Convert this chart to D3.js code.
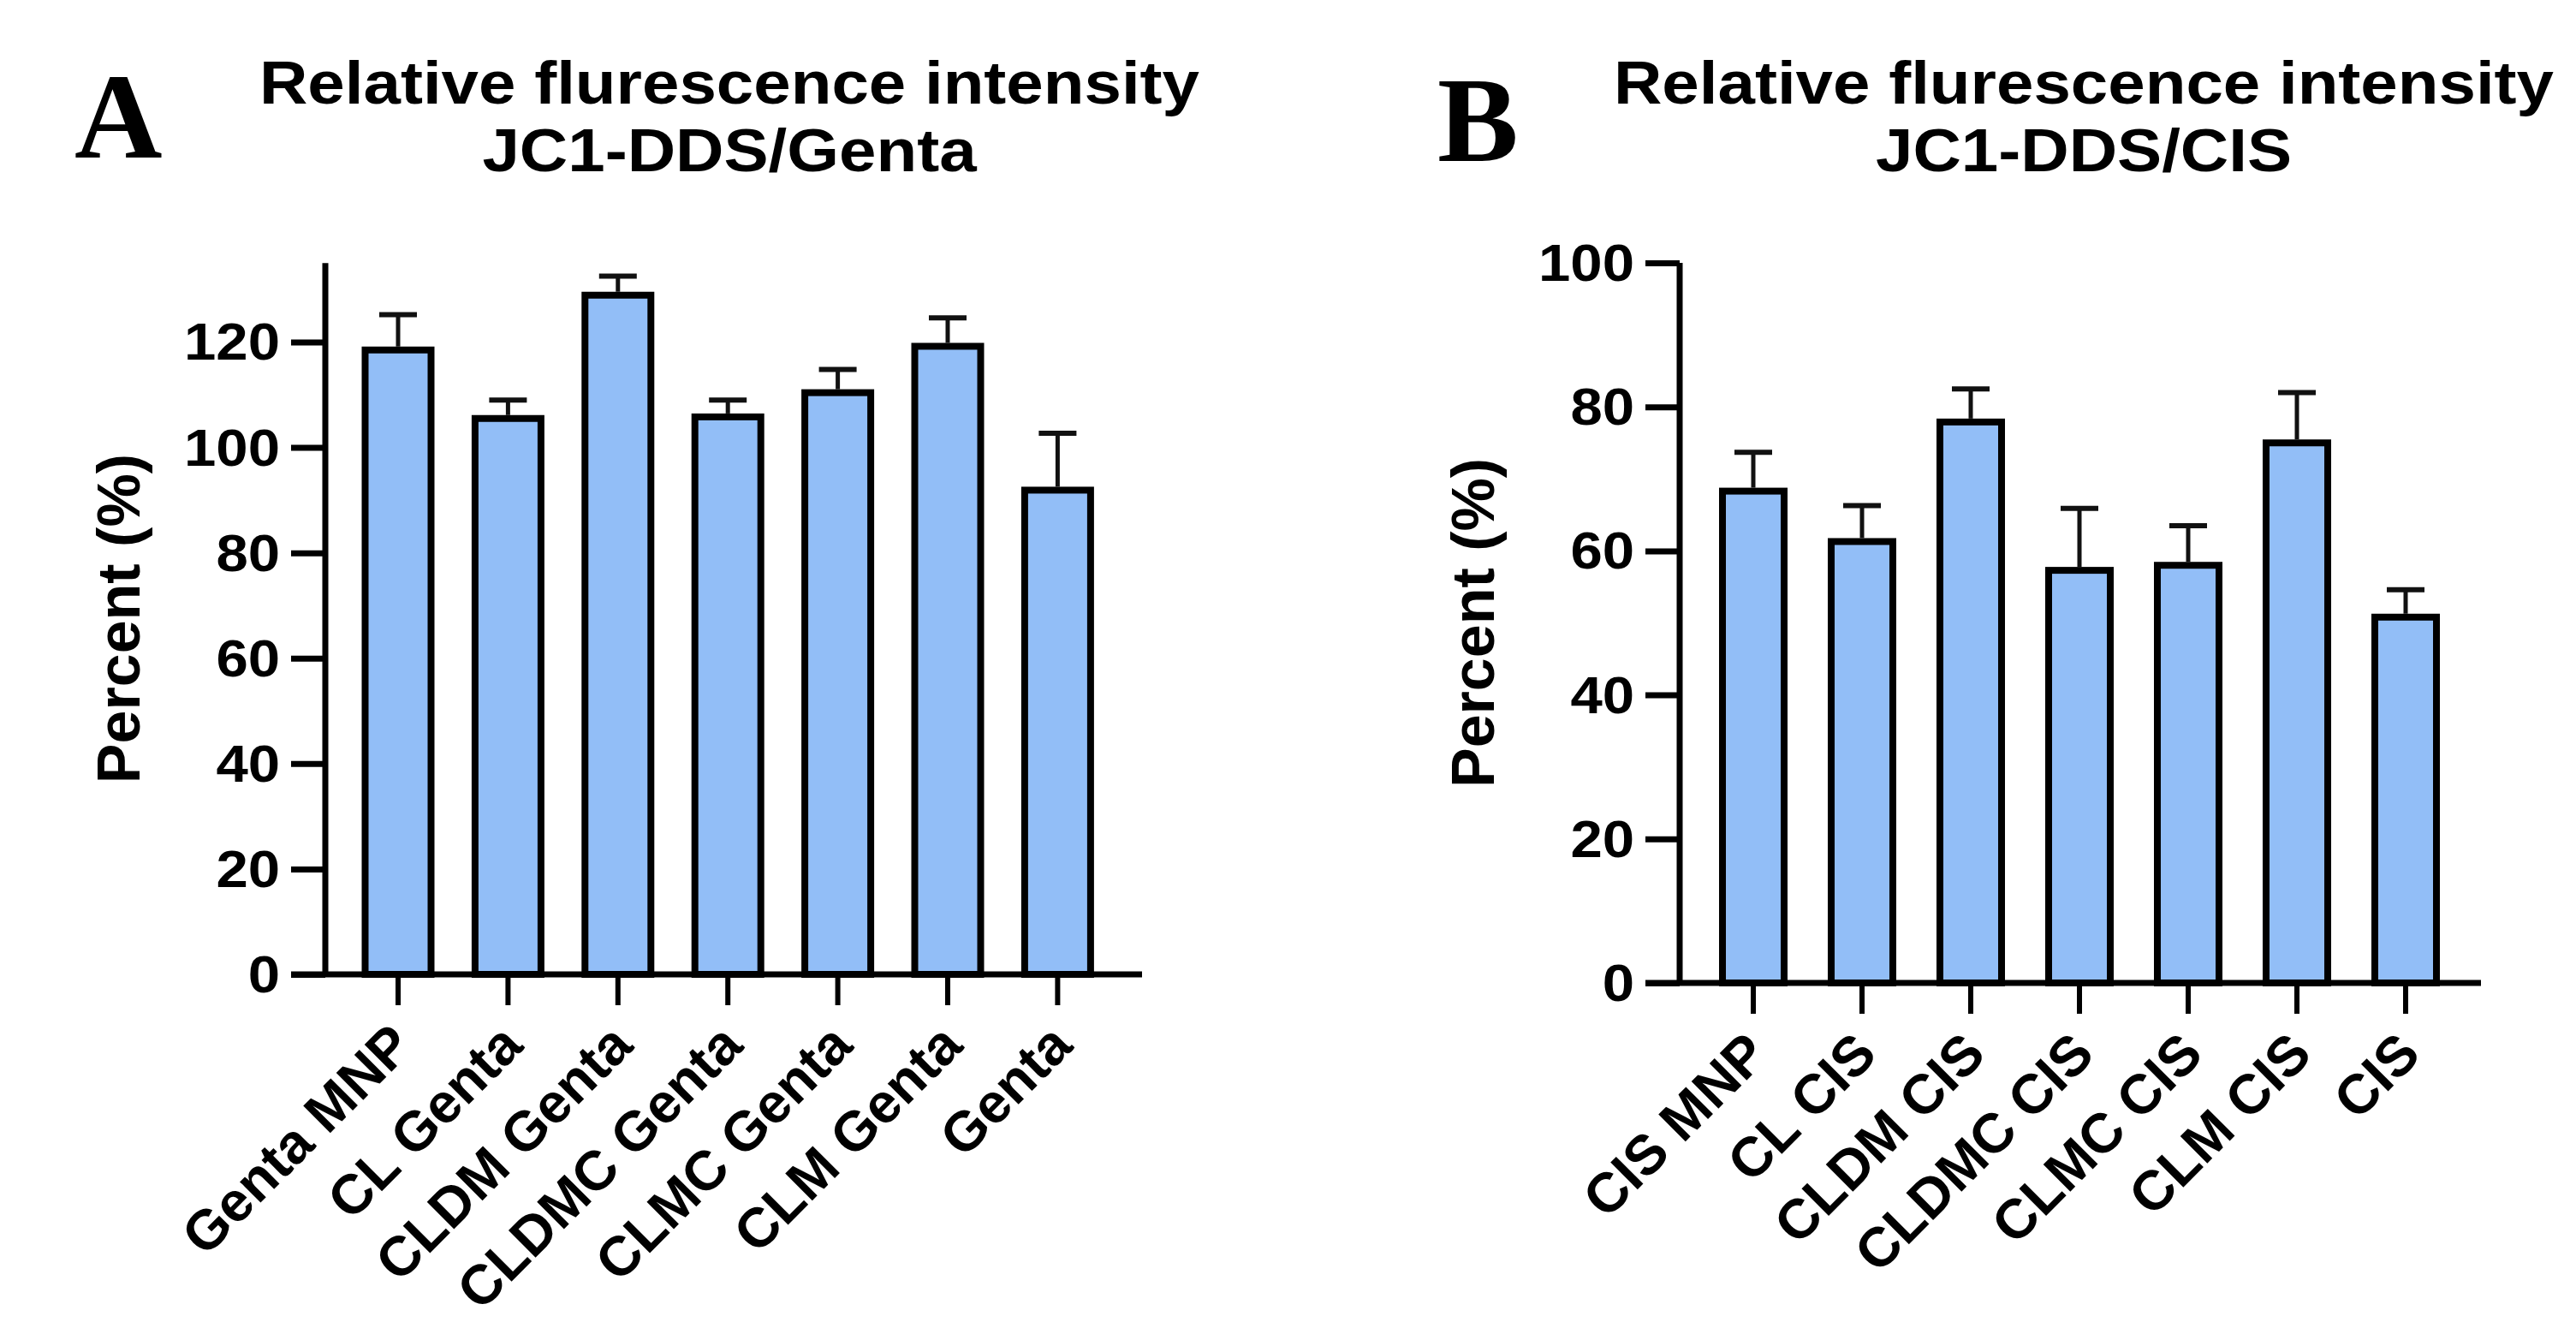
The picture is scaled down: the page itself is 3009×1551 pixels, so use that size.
<!DOCTYPE html>
<html>
<head>
<meta charset="utf-8">
<script src="https://cdn.jsdelivr.net/npm/d3@7"></script>
<style>
  html, body { margin: 0; padding: 0; background: #ffffff; }
  svg { display: block; }
</style>
</head>
<body>
<svg id="chart" width="3009" height="1551"></svg>
<script>
// ---------- data ----------
const categoriesA = ["Genta MNP", "CL Genta", "CLDM Genta", "CLDMC Genta", "CLMC Genta", "CLM Genta", "Genta"];
const meansA = [118.5, 105.5, 128.9, 105.8, 110.4, 119.2, 91.9];
const errorsA = [6.7, 3.5, 3.6, 3.2, 4.4, 5.4, 10.8];
const ticksA = [0, 20, 40, 60, 80, 100, 120];

const categoriesB = ["CIS MNP", "CL CIS", "CLDM CIS", "CLDMC CIS", "CLMC CIS", "CLM CIS", "CIS"];
const meansB = [68.3, 61.3, 77.9, 57.3, 58.0, 75.0, 50.8];
const errorsB = [5.4, 5.0, 4.6, 8.6, 5.5, 7.0, 3.8];
const ticksB = [0, 20, 40, 60, 80, 100];

const titleA = ["Relative flurescence intensity", "JC1-DDS/Genta"];
const titleB = ["Relative flurescence intensity", "JC1-DDS/CIS"];
const yLabel = "Percent (%)";

// ---------- style ----------
const FONT = "'Liberation Sans', Arial, Helvetica, sans-serif";
const SERIF = "'Liberation Serif', 'Times New Roman', serif";
const FILL = "#92BEF7";
const STRETCH = 1.1;

const svg = d3.select("#chart");

function panel(cfg) {
  const g = svg.append("g");
  const n = cfg.cats.length;
  const step = cfg.step;
  const pInner = 1 - cfg.barOuter / step;
  const x = d3.scaleBand()
    .domain(cfg.cats)
    .range([cfg.c1 - step / 2, cfg.c1 + (n - 1) * step + step / 2])
    .paddingInner(pInner)
    .paddingOuter(pInner / 2);
  const y = d3.scaleLinear().domain([0, cfg.yMax]).range([cfg.y0, cfg.yTop]);

  const barSW = 8;
  // bars
  g.selectAll("rect.bar").data(cfg.vals).enter().append("rect")
    .attr("class", "bar")
    .attr("x", (d, i) => x(cfg.cats[i]) + barSW / 2)
    .attr("width", x.bandwidth() - barSW)
    .attr("y", d => y(d))
    .attr("height", d => y(0) - y(d))
    .attr("fill", FILL)
    .attr("stroke", "#000")
    .attr("stroke-width", barSW);

  // error bars (upper only)
  const capW = 44;
  cfg.vals.forEach((v, i) => {
    const cx = x(cfg.cats[i]) + x.bandwidth() / 2;
    const top = y(v + cfg.errs[i]);
    g.append("line")
      .attr("x1", cx).attr("x2", cx)
      .attr("y1", y(v) - barSW / 2).attr("y2", top)
      .attr("stroke", "#111").attr("stroke-width", 5);
    g.append("line")
      .attr("x1", cx - capW / 2).attr("x2", cx + capW / 2)
      .attr("y1", top).attr("y2", top)
      .attr("stroke", "#111").attr("stroke-width", 6);
  });

  // y axis
  const yAxis = d3.axisLeft(y).tickValues(cfg.ticks).tickSize(40).tickFormat(d3.format("d"));
  const ya = g.append("g").attr("transform", `translate(${cfg.axisX},0)`).call(yAxis);
  ya.select(".domain").remove();
  ya.selectAll(".tick line").attr("stroke", "#000").attr("stroke-width", 7);
  ya.selectAll(".tick text").remove();
  cfg.ticks.forEach(t => {
    g.append("text")
      .attr("transform", `translate(${cfg.axisX - 53},${y(t)}) scale(${STRETCH},1)`)
      .attr("text-anchor", "end")
      .attr("dominant-baseline", "central")
      .attr("font-family", FONT).attr("font-weight", "bold").attr("font-size", 61)
      .attr("fill", "#000")
      .text(t);
  });
  g.append("line")
    .attr("x1", cfg.axisX).attr("x2", cfg.axisX)
    .attr("y1", y(0)).attr("y2", y(cfg.yMax))
    .attr("stroke", "#000").attr("stroke-width", 7);

  // x axis
  const xAxis = d3.axisBottom(x).tickSize(36).tickFormat("");
  const xa = g.append("g").attr("transform", `translate(0,${y(0)})`).call(xAxis);
  xa.select(".domain").remove();
  xa.selectAll(".tick line").attr("stroke", "#000").attr("stroke-width", 6);
  g.append("line")
    .attr("x1", cfg.axisX - 40).attr("x2", cfg.xEnd)
    .attr("y1", y(0)).attr("y2", y(0))
    .attr("stroke", "#000").attr("stroke-width", 7);

  // x labels
  cfg.cats.forEach(c => {
    const cx = x(c) + x.bandwidth() / 2;
    g.append("text")
      .attr("transform", `translate(${cx + cfg.lblDx},${y(0) + cfg.lblDy}) rotate(-45)`)
      .attr("text-anchor", "end")
      .attr("font-family", FONT).attr("font-weight", "bold").attr("font-size", 65)
      .attr("fill", "#000")
      .text(c);
  });

  // y label
  g.append("text")
    .attr("transform", `translate(${cfg.axisX - 217},${(y(0) + y(cfg.yMax)) / 2}) rotate(-90)`)
    .attr("text-anchor", "middle")
    .attr("font-family", FONT).attr("font-weight", "bold").attr("font-size", 70)
    .attr("fill", "#000")
    .text(yLabel);

  // title
  cfg.title.forEach((t, i) => {
    g.append("text")
      .attr("transform", `translate(${cfg.titleX},${[121, 200][i]}) scale(${STRETCH},1)`)
      .attr("text-anchor", "middle")
      .attr("font-family", FONT).attr("font-weight", "bold").attr("font-size", 71)
      .attr("fill", "#000")
      .text(t);
  });

  // panel letter
  g.append("text")
    .attr("x", cfg.letterX).attr("y", cfg.letterY)
    .attr("font-family", SERIF).attr("font-weight", "bold").attr("font-size", 142)
    .attr("fill", "#000")
    .text(cfg.letter);
}

panel({
  cats: categoriesA, vals: meansA, errs: errorsA, ticks: ticksA,
  yMax: 135, y0: 1138, yTop: 1138 - 135 * 6.154,
  axisX: 380, xEnd: 1334, c1: 465, step: 128.4, barOuter: 85,
  lblDx: 20, lblDy: 86,
  title: titleA, titleX: 852,
  letter: "A", letterX: 87, letterY: 184
});

panel({
  cats: categoriesB, vals: meansB, errs: errorsB, ticks: ticksB,
  yMax: 100, y0: 1148, yTop: 307,
  axisX: 1962, xEnd: 2898, c1: 2048, step: 127, barOuter: 80,
  lblDx: 20, lblDy: 86,
  title: titleB, titleX: 2434,
  letter: "B", letterX: 1679, letterY: 188
});
</script>
</body>
</html>
